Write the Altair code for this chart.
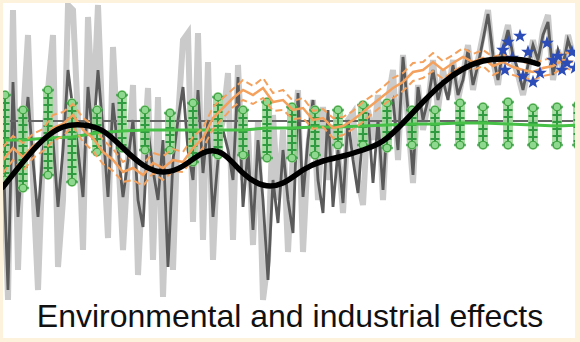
import altair as alt
import pandas as pd

# ---- series values (time index t, anomaly v) ----
# raw yearly record, wide light band
light_v = [2.0, -13.0, 16.0, -10.0, 5.0, 13.5, -1.0, -12.0, 2.0, 8.0,
           13.5, -9.7, -3.0, 16.5, 16.0, 5.0, -8.0, 15.3, 5.0, 16.5,
           3.0, -6.8, 12.3, 2.0, -8.0, 1.0, 8.5, -10.5, 0.0, 8.2,
           -9.0, 7.3, -12.7, 2.0, -10.0, 5.0, 13.0, 13.7, -5.2, 13.7,
           -7.0, 10.8, -9.0, 3.0, 5.0, 9.7, -7.0, 10.5, -1.0, 4.0,
           -7.5, 5.0, -13.0, -9.0, 5.5, -3.0, 4.0, -8.2, 2.0, 8.0,
           -8.2, 2.0, 7.0, -3.0, 6.3, -1.0, 4.5, 2.0, -4.3, 5.0,
           5.7, -1.0, -3.5, 6.0, 3.0, 7.5, -3.0, 7.0, 10.0, 1.0,
           11.5, 5.0, -1.3, 8.5, 4.0, 6.5, 11.0, 6.0, 10.0, 7.5,
           11.0, 7.0, 9.5, 12.5, 8.0, 11.0, 13.5, 16.0, 11.0, 8.5,
           12.5, 14.5, 11.0, 9.5, 7.5, 10.0, 13.0, 10.5, 14.0, 15.5,
           9.0, 12.0, 10.0, 13.5, 11.5]

# filtered record, dark line
dark_v = [2.0, -12.0, 8.8, -4.7, 2.0, 7.3, 1.0, -4.7, 2.0, 5.0,
          3.0, -3.7, 2.0, 10.0, 6.0, 2.0, -2.7, 8.3, 3.0, 10.0,
          4.0, -2.7, 6.7, 2.0, -2.7, 1.0, 5.0, -3.0, -5.7, 4.0,
          0.0, -3.0, 3.0, -9.7, 1.0, 5.0, 8.3, 2.0, -1.0, 8.0,
          -0.3, 5.0, -4.7, 1.0, 4.0, 2.0, -1.0, 9.3, -3.7, 2.0,
          -6.0, 3.0, -3.0, -11.0, -1.0, -5.3, 2.0, -3.0, -6.3, 7.7,
          -2.7, 3.0, 7.0, -1.0, -4.3, 6.0, -3.7, 2.0, -3.3, 5.0,
          1.0, -2.3, 4.0, 5.7, -1.3, 5.0, -2.0, 6.0, 7.0, 2.0,
          11.3, 6.0, -0.5, 8.3, 5.0, 7.0, 10.0, 7.0, 9.0, 7.0,
          10.5, 7.5, 9.0, 12.0, 8.5, 10.5, 13.0, 15.6, 11.5, 9.0,
          12.0, 14.0, 11.5, 10.0, 8.0, 10.5, 12.5, 11.0, 13.5, 14.8,
          9.5, 12.0, 10.5, 13.0, 11.5]

# long-term reference level
reference_level = [4.9]

# sampled estimates with uncertainty ranges
bar_t = [0.4, 4.0, 9.0, 13.8, 18.8, 23.8, 28.4, 33.4, 38.0, 43.0,
         48.0, 52.8, 57.8, 62.4, 67.0, 72.0, 76.8, 81.8, 86.4, 91.4,
         96.0, 101.0, 106.0, 110.8, 115.0]
bar_hi = [7.5, 6.0, 8.0, 6.7, 6.0, 7.5, 6.0, 5.7, 6.7, 7.3,
          6.0, 6.8, 6.3, 6.0, 6.0, 6.5, 6.7, 6.0, 6.0, 6.7,
          6.3, 6.8, 6.2, 6.3, 6.5]
bar_lo = [-1.0, -1.8, -0.5, -1.2, 1.8, 2.2, 2.0, 2.0, 0.8, 1.5,
          1.5, 1.2, 1.2, 1.5, 2.5, 2.5, 2.2, 2.5, 2.5, 2.5,
          2.5, 2.5, 2.5, 2.5, 2.5]
bar_mean = [3.0, 3.0, 3.2, 3.3, 3.7, 3.9, 4.0, 4.0, 4.0, 4.0,
            4.0, 4.2, 4.2, 4.3, 4.3, 4.4, 4.5, 4.6, 4.6, 4.7,
            4.7, 4.6, 4.5, 4.4, 4.5]

# reconstruction (every second step) with its half-width
recon_t = list(range(0, 116, 2))
recon_v = [1.0, 2.2, 1.3, 2.4, 3.0, 4.2, 4.6, 5.5, 4.0, 3.2,
           1.8, 1.0, -0.2, 0.2, -0.5, 0.7, 0.2, 1.0, 0.8, 2.2,
           3.2, 5.2, 6.2, 7.2, 8.0, 7.5, 8.2, 6.8, 7.0, 6.0,
           6.2, 5.0, 5.2, 4.2, 4.4, 5.0, 5.8, 6.6, 7.4, 8.2,
           8.8, 9.8, 10.0, 10.8, 10.0, 10.7, 11.3, 10.8, 11.2, 10.4,
           10.8, 10.3, 10.0, 9.8, 10.2, 10.4, 11.0, 10.8]
recon_err = [1.3, 1.2, 1.4, 1.2, 1.1, 1.3, 1.2, 1.1, 1.2, 1.3,
             1.2, 1.1, 1.0, 1.2, 1.1, 1.0, 1.2, 1.1, 1.0, 1.1,
             1.0, 1.1, 1.0, 0.9, 1.0, 0.9, 1.0, 0.9, 1.0, 0.9,
             1.0, 0.9, 0.9, 1.0, 0.9, 0.9, 1.0, 0.9, 0.9, 1.0,
             0.9, 0.9, 0.8, 0.9, 0.9, 0.8, 0.9, 0.8, 0.8, 0.9,
             0.8, 0.8, 0.8, 0.8, 0.8, 0.8, 0.8, 0.8]

# recent direct observations
star_t = [100.0, 101.0, 103.4, 101.8, 105.0, 100.4, 104.0, 106.0, 107.4, 108.8,
          110.0, 111.0, 111.8, 112.8, 113.8, 114.4]
star_v = [12.0, 12.8, 13.4, 11.2, 11.8, 10.0, 9.4, 8.8, 9.7, 12.7,
          11.0, 11.4, 10.0, 10.7, 11.8, 10.2]

# smoothed long-term trend
trend_t = [0, 4, 8, 12, 16, 20, 24, 28, 32, 36, 40, 44, 48, 52, 56, 60,
           64, 68, 72, 76, 80, 84, 88, 92, 96, 100, 104, 107]
trend_v = [-1.7, 0.8, 3.0, 4.3, 4.5, 3.9, 2.2, 0.5, -0.2, 0.4, 1.7, 1.6,
           -0.3, -1.5, -1.3, 0.0, 0.9, 1.4, 2.0, 2.9, 4.7, 6.8, 8.7, 10.1,
           10.9, 11.1, 11.0, 10.6]

caption = "Environmental and industrial effects"

# ---- tables ----
light_df = pd.DataFrame({"t": range(len(light_v)), "v": light_v})
dark_df = pd.DataFrame({"t": range(len(dark_v)), "v": dark_v})
ref_df = pd.DataFrame({"v": reference_level})
bars_df = pd.DataFrame({"t": bar_t, "hi": bar_hi, "lo": bar_lo, "mean": bar_mean})
ends_df = pd.concat([
    pd.DataFrame({"t": bar_t, "v": bar_hi}),
    pd.DataFrame({"t": bar_t, "v": bar_lo}),
])
recon_df = pd.DataFrame({"t": recon_t, "v": recon_v, "e": recon_err})
stars_df = pd.DataFrame({"t": star_t, "v": star_v})
trend_df = pd.DataFrame({"t": trend_t, "v": trend_v})
caption_df = pd.DataFrame({"label": [caption]})

xs = alt.Scale(domain=[0, 114.4], nice=False, zero=False)
ys = alt.Scale(domain=[-16.8, 16.7], nice=False, zero=False)


def X(field="t"):
    return alt.X(field, type="quantitative", scale=xs, axis=None)


def Y(field="v"):
    return alt.Y(field, type="quantitative", scale=ys, axis=None)


GREEN_DARK = "#2f9a40"
ORANGE = "#f4a15d"
STAR = ("M0,-1L0.235,-0.324L0.951,-0.309L0.380,0.124L0.588,0.809L0,0.4"
        "L-0.588,0.809L-0.380,0.124L-0.951,-0.309L-0.235,-0.324Z")

light = alt.Chart(light_df).mark_line(
    color="#cacaca", strokeWidth=6, strokeJoin="miter", clip=True
).encode(x=X(), y=Y())

dark = alt.Chart(dark_df).mark_line(
    color="#5a5a5a", strokeWidth=2.8, clip=True
).encode(x=X(), y=Y())

ref = alt.Chart(ref_df).mark_rule(color="#666666", strokeWidth=2).encode(y=Y())

capsule = alt.Chart(bars_df).mark_rule(
    color="#9fd89a", strokeWidth=10, strokeCap="round", opacity=0.9, clip=True
).encode(x=X(), y=Y("hi"), y2="lo")

rungs = alt.Chart(bars_df).mark_rule(
    color=GREEN_DARK, strokeWidth=9, strokeDash=[2, 5], clip=True
).encode(x=X(), y=Y("hi"), y2="lo")

stem = alt.Chart(bars_df).mark_rule(
    color=GREEN_DARK, strokeWidth=2, clip=True
).encode(x=X(), y=Y("hi"), y2="lo")

caps = alt.Chart(ends_df).mark_tick(
    orient="horizontal", size=12, thickness=2.5, color=GREEN_DARK, clip=True
).encode(x=X(), y=Y())

ends = alt.Chart(ends_df).mark_point(
    shape="circle", filled=True, size=60, fill="#8fd88f",
    stroke="#3a9e3a", strokeWidth=1, opacity=1, clip=True
).encode(x=X(), y=Y())

mean_line = alt.Chart(bars_df).mark_line(
    color="#47c047", strokeWidth=3, clip=True
).encode(x=X(), y=Y("mean"))

recon_base = alt.Chart(recon_df).transform_calculate(
    upper="datum.v + datum.e", lower="datum.v - datum.e"
)
recon_upper = recon_base.mark_line(
    color=ORANGE, strokeWidth=2, strokeDash=[7, 4], clip=True
).encode(x=X(), y=Y("upper"))
recon_lower = recon_base.mark_line(
    color=ORANGE, strokeWidth=2, strokeDash=[7, 4], clip=True
).encode(x=X(), y=Y("lower"))
recon_mid = recon_base.mark_line(
    color=ORANGE, strokeWidth=2.5, clip=True
).encode(x=X(), y=Y("v"))

stars = alt.Chart(stars_df).mark_point(
    shape=STAR, filled=True, size=210, color="#2c4cb8", opacity=1, clip=True
).encode(x=X(), y=Y())

trend = alt.Chart(trend_df).mark_line(
    color="black", strokeWidth=5.5, interpolate="natural", strokeCap="round", clip=True
).encode(x=X(), y=Y())

label = alt.Chart(caption_df).mark_text(
    font="Liberation Sans", fontSize=32, color="#111111",
    align="center", baseline="alphabetic"
).encode(text="label:N", x=alt.value(287), y=alt.value(324))

chart = alt.layer(
    light, dark, ref, capsule, rungs, stem, caps, ends, mean_line,
    recon_upper, recon_lower, recon_mid, stars, trend, label
).properties(
    width=572, height=335,
    background="#fdf3dc",
    padding={"left": 3, "top": 3, "right": 5, "bottom": 4},
    autosize="none",
).configure_view(fill="white", stroke=None)

chart.save("out.html", embed_options={"renderer": "svg", "actions": False})
